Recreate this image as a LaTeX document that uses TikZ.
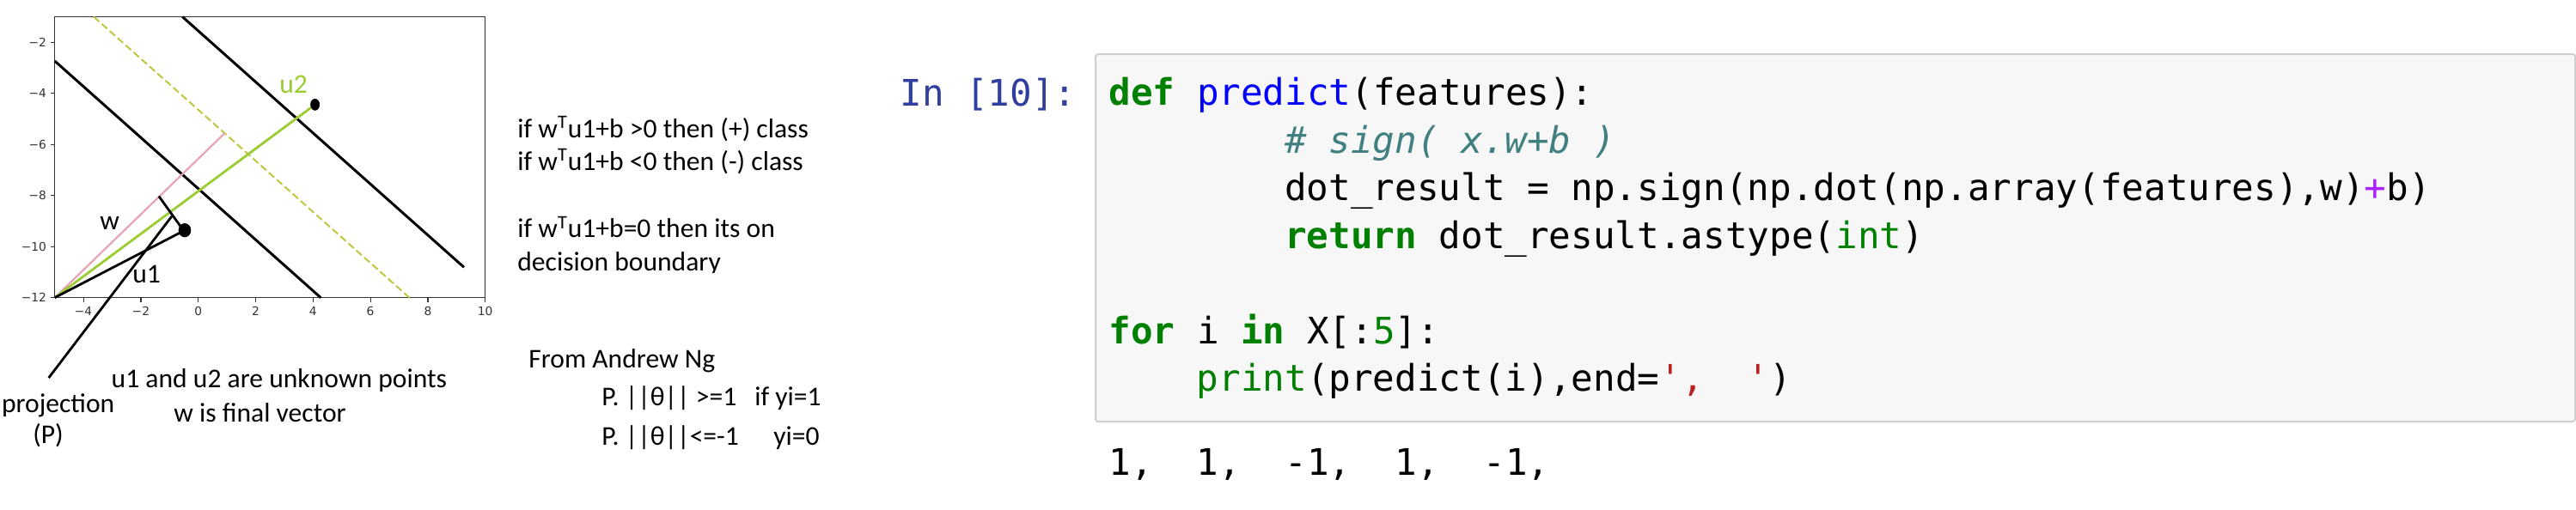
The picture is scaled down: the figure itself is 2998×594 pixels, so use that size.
\documentclass[tikz,border=0pt]{standalone}
\usepackage{fontspec}
\setmainfont{Carlito}
\newfontfamily\codefont{DejaVu Sans Mono}[Ligatures=TeXOff]
\newfontfamily\tickfont{DejaVu Sans}
\usetikzlibrary{shapes.geometric}
\definecolor{kw}{HTML}{008000}
\definecolor{fn}{HTML}{0000FF}
\definecolor{cmt}{HTML}{408080}
\definecolor{opc}{HTML}{AA22FF}
\definecolor{strc}{HTML}{BA2121}
\definecolor{prompt}{HTML}{303F9F}
\definecolor{codebg}{HTML}{F7F7F7}
\definecolor{codeborder}{HTML}{CFCFCF}
\definecolor{framec}{HTML}{333333}
\definecolor{ygreen}{HTML}{9ACD32}
\definecolor{dashc}{HTML}{BFC63F}
\definecolor{pinkc}{HTML}{E8A3B6}
\tikzset{
  frameline/.style={draw=framec, line width=0.6pt},
  ticklab/.style={font=\tickfont\fontsize{6.9}{8}\selectfont, text=framec, inner sep=0pt},
  plotline/.style={black, line width=1.5pt},
  thinline/.style={black, line width=1.4pt},
  dotnode/.style={shape=ellipse, fill=black, inner sep=0pt},
  txt/.style={font=\fontsize{15.8}{19}\selectfont, inner sep=0pt, anchor=base west},
  codetxt/.style={font=\codefont\fontsize{21.3}{27}\selectfont, inner sep=0pt, anchor=base west},
}
\begin{document}
\begin{tikzpicture}[x=0.5pt,y=-0.5pt]
\fill[white] (0,0) rectangle (2998,594);
\path[use as bounding box] (0,0) rectangle (2998,594);

% ---------------- plot ----------------
\begin{scope}[shift={(230.7,346.7)}, x=16.7pt, y=14.87pt]
  \coordinate (O) at (-5,0);
  \coordinate (Atop) at (-5,9.27);
  \coordinate (Abot) at (4.27,0);
  \coordinate (Dtop) at (-3.64,11);
  \coordinate (Dbot) at (7.36,0);
  \coordinate (Btop) at (-0.55,11);
  \coordinate (Bend) at (9.26,1.19);
  \coordinate (Wend) at (0.93,6.45);
  \coordinate (P1) at (-1.37,3.97);
  \coordinate (P2) at (-0.62,2.80);
  \coordinate (Ptr) at (-0.92,3.19);
  \coordinate (PtrEnd) at (-5.21,-3.14);
  \node[dotnode, minimum width=7.2pt, minimum height=8pt] (U1) at (-0.47,2.64) {};
  \node[dotnode, minimum width=5.3pt, minimum height=6.7pt] (U2) at (4.07,7.56) {};

  \draw[frameline] (-5,0) rectangle (10,11);
  \foreach \X/\L in {-4/−4,-2/−2,0/0,2/2,4/4,6/6,8/8,10/10}{
    \draw[frameline] (\X,0) -- ++(0,-2.5pt);
    \node[ticklab] at ([yshift=-8pt]\X,0) {\L};
  }
  \foreach \Y/\L in {10/−2,8/−4,6/−6,4/−8,2/−10,0/−12}{
    \draw[frameline] (-5,\Y) -- ++(-2.5pt,0);
    \node[ticklab, anchor=east] at ([xshift=-4.7pt]-5,\Y) {\L};
  }

  \draw[dashc, line width=1pt, dash pattern=on 4.2pt off 2pt] (Dtop) -- (Dbot);
  \draw[plotline] (Atop) -- (Abot);
  \draw[plotline] (Btop) -- (Bend);
  \draw[pinkc, line width=1.1pt] (O) -- (Wend);
  \draw[ygreen, line width=1.4pt] (O) -- (U2.center);
  \draw[thinline] (O) -- (U1.center);
  \draw[thinline] (P1) -- (P2);
  \draw[thinline] (Ptr) -- (PtrEnd);
  \node[dotnode, minimum width=7.2pt, minimum height=8pt] at (U1) {};
  \node[dotnode, minimum width=5.3pt, minimum height=6.7pt] at (U2) {};
\end{scope}

\node[txt, anchor=base] (wlab) at (127.7,267.7) {w};
\node[txt] (u1lab) at (154,329.3) {u1};
\node[txt, text=ygreen] (u2lab) at (325,108.3) {u2};

\node[txt, anchor=base] (proj) at (67.7,480.7) {projection};
\node[txt, anchor=base] (projP) at (56,516.7) {(P)};
\node[txt] (unk) at (129.3,451.7) {u1 and u2 are unknown points};
\node[txt] (fin) at (202,491.7) {w is final vector};

\node[txt] (r1) at (602,160) {if w\textsuperscript{T}u1+b >0 then (+) class};
\node[txt] (r2) at (602,198.3) {if w\textsuperscript{T}u1+b <0 then (-) class};
\node[txt] (r3) at (602,276.7) {if w\textsuperscript{T}u1+b=0 then its on};
\begin{scope}
  \clip (590,280) rectangle (1000,317);
  \node[txt] (r4) at (602,315) {decision boundary};
\end{scope}
\node[txt] (ng) at (615,428.3) {From Andrew Ng};
\node[txt] (ng1) at (700,472.7) {\makebox[89pt][l]{P. ||θ|| >=1}if yi=1};
\node[txt] (ng2) at (700,518.3) {\makebox[100pt][l]{P. ||θ||<=-1}yi=0};

% ---------------- code cell ----------------
\node[draw=codeborder, fill=codebg, line width=1pt, rounded corners=1.5pt,
      minimum width=861pt, minimum height=214pt, anchor=north west, inner sep=0pt] (codebox) at (1274,62) {};
\node[codetxt, text=prompt] (inp) at (1047,123) {In [10]:};
\node[codetxt] (c1) at (1290,122) {{\bfseries\color{kw}def} {\color{fn}predict}(features):};
\node[codetxt, text=cmt] (c2) at (1494.8,178) {\itshape \#~sign(~x.w+b~)};
\node[codetxt] (c3) at (1494.8,233.5) {dot\_result~=~np.sign(np.dot(np.array(features),w){\color{opc}+}b)};
\node[codetxt] (c4) at (1494.8,289) {{\bfseries\color{kw}return}~dot\_result.astype({\color{kw}int})};
\node[codetxt] (c6) at (1290,400) {{\bfseries\color{kw}for}~i~{\bfseries\color{kw}in}~X[:{\color{kw}5}]:};
\node[codetxt] (c7) at (1392.4,455) {{\color{kw}print}(predict(i),end={\color{strc}',~~'})};
\node[codetxt] (out) at (1290,553) {1,~~1,~~-1,~~1,~~-1,};
\end{tikzpicture}
\end{document}
